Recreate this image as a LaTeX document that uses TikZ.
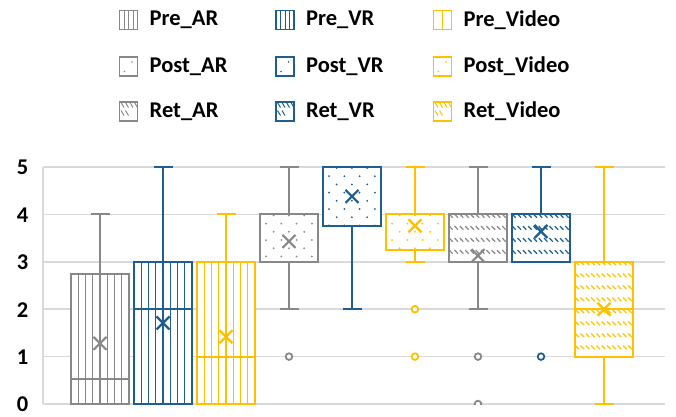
\documentclass[tikz,border=0pt]{standalone}
\usepackage{fontspec}
\setmainfont{Carlito}
\definecolor{cG}{HTML}{888888}
\definecolor{cB}{HTML}{1F5F8F}
\definecolor{cY}{HTML}{FFC000}
\definecolor{cGrid}{HTML}{D9D9D9}
\newcommand\vy[1]{404-47.4*(#1)}
% patterns use \xL \xR \yT \yB
\newcommand\patvert[1]{\pgfmathsetmacro\xW{(\xR-\xL)/8}\foreach \i in {1,...,7}{\draw[#1,line width=1.3pt] ({\xL+\i*\xW},\yT) -- ({\xL+\i*\xW},\yB);}}
\newcommand\patdots[1]{\foreach \r in {0,...,18}{\foreach \c in {0,...,4}{\fill[#1] ({\xL+6+mod(\r+1,2)*7.6+\c*15.3},{\yT+1+\r*8.2}) circle (1);}}}
\newcommand\patdiag[1]{\foreach \r in {0,...,10}{\foreach \c in {0,...,12}{\draw[#1,line width=1.2pt] ({\xL+2+\c*5.3-1.7},{\yT+1.5+\r*12-1.8}) -- ({\xL+2+\c*5.3+1.7},{\yT+1.5+\r*12+1.8});}}}
\newcommand\mybx[5]{%
  \pgfmathsetmacro\xL{#1-29}\pgfmathsetmacro\xR{#1+29}%
  \pgfmathsetmacro\yT{\vy{#3}}\pgfmathsetmacro\yB{\vy{#2}}%
  \fill[white] (\xL,\yT) rectangle (\xR,\yB);
  \begin{scope}
    \clip (\xL,\yT) rectangle (\xR,\yB);
    \csname pat#5\endcsname{#4}
  \end{scope}
  \draw[#4,line width=2pt] (\xL,\yT) rectangle (\xR,\yB);
}
\newcommand\mywk[4]{%
  \draw[#4,line width=2pt] (#1,{\vy{#2}}) -- (#1,{\vy{#3}});
  \draw[#4,line width=2pt] ({#1-9.5},{\vy{#3}}) -- ({#1+9.5},{\vy{#3}});
}
\newcommand\mymd[3]{\draw[#3,line width=2pt] ({#1-29},{\vy{#2}}) -- ({#1+29},{\vy{#2}});}
\newcommand\mymn[3]{\draw[#3,line width=2.2pt] ({#1-6.5},{\vy{#2}-6.5}) -- ({#1+6.5},{\vy{#2}+6.5}) ({#1-6.5},{\vy{#2}+6.5}) -- ({#1+6.5},{\vy{#2}-6.5});}
\newcommand\myol[3]{\draw[#3,line width=1.8pt,fill=white] (#1,{\vy{#2}}) circle (3.3);}
% legend icon
\newcommand\mylg[5]{% cx cy col pattern label
  \pgfmathsetmacro\xL{#1-9}\pgfmathsetmacro\xR{#1+9}%
  \pgfmathsetmacro\yT{#2-9.5}\pgfmathsetmacro\yB{#2+9.5}%
  \begin{scope}
    \clip (\xL,\yT) rectangle (\xR,\yB);
    \csname leg#4\endcsname{#3}
  \end{scope}
  \draw[#3,line width=1.5pt] (\xL,\yT) rectangle (\xR,\yB);
  \node[lgtext,anchor=west] at ({#1+21},#2) {#5};
}
\newcommand\legvert[1]{\foreach \i in {1,2,3}{\draw[#1,line width=1pt] ({\xL+\i*4.5},\yT) -- ({\xL+\i*4.5},\yB);}}
\newcommand\legvertb[1]{\draw[#1,line width=1pt] ({\xL+9},\yT) -- ({\xL+9},\yB);}
\newcommand\legdots[1]{\fill[#1] ({\xL+12.5},{\yT+5}) circle (0.9); \fill[#1] ({\xL+5},{\yT+14.5}) circle (0.9);}
\newcommand\legdiag[1]{\foreach \r/\c in {0/0,0/1,0/2,0/3,1/0,1/1}{\draw[#1,line width=1pt] ({\xL+3+\c*4.5-1.5},{\yT+3+\r*8-2.5}) -- ({\xL+3+\c*4.5+1.5},{\yT+3+\r*8+2.5});}}
\begin{document}
\begin{tikzpicture}[x=1pt,y=-1pt,
  lgtext/.style={font=\fontsize{22.5}{27}\selectfont\bfseries,inner sep=0pt},
  axlab/.style={font=\fontsize{22.5}{27}\selectfont\bfseries,inner sep=0pt,anchor=east}]
\useasboundingbox (0,0) rectangle (676,416);
% grid
\foreach \v in {0,...,5}{
  \draw[cGrid,line width=1.5pt] (43,{\vy{\v}}) -- (665,{\vy{\v}});
  \node[axlab] (y\v) at (28.5,{\vy{\v}+0.5}) {\v};
}
\draw[cGrid,line width=1.5pt] (43,{\vy{5}}) -- (43,{\vy{0}});
% legend
\mylg{128.5}{20}{cG}{vert}{Pre\_AR}
\mylg{285}{20}{cB}{vert}{Pre\_VR}
\mylg{442.5}{20}{cY}{vertb}{Pre\_Video}
\mylg{128.5}{66.5}{cG}{dots}{Post\_AR}
\mylg{285}{66.5}{cB}{dots}{Post\_VR}
\mylg{442.5}{66.5}{cY}{dots}{Post\_Video}
\mylg{128.5}{111.5}{cG}{diag}{Ret\_AR}
\mylg{285}{111.5}{cB}{diag}{Ret\_VR}
\mylg{442.5}{111.5}{cY}{diag}{Ret\_Video}
\begin{scope}
\clip (0,0) rectangle (676,404.6);
% whiskers
\mywk{100}{2.75}{4}{cG}
\mywk{163}{3}{5}{cB}
\mywk{226}{3}{4}{cY}
\mywk{289}{4}{5}{cG}\mywk{289}{3}{2}{cG}
\mywk{352}{3.75}{2}{cB}
\mywk{415}{4}{5}{cY}\mywk{415}{3.25}{3}{cY}
\mywk{478}{4}{5}{cG}\mywk{478}{3}{2}{cG}
\mywk{541}{4}{5}{cB}
\mywk{604}{3}{5}{cY}\mywk{604}{1}{0}{cY}
% boxes
\mybx{100}{0}{2.75}{cG}{vert}
\mybx{163}{0}{3}{cB}{vert}
\mybx{226}{0}{3}{cY}{vert}
\mybx{289}{3}{4}{cG}{dots}
\mybx{352}{3.75}{5}{cB}{dots}
\mybx{415}{3.25}{4}{cY}{dots}
\mybx{478}{3}{4}{cG}{diag}
\mybx{541}{3}{4}{cB}{diag}
\mybx{604}{1}{3}{cY}{diag}
% medians
\mymd{100}{0.52}{cG}
\mymd{163}{2}{cB}
\mymd{226}{1}{cY}
\mymd{604}{2}{cY}
% means
\mymn{100}{1.28}{cG}
\mymn{163}{1.71}{cB}
\mymn{226}{1.42}{cY}
\mymn{289}{3.43}{cG}
\mymn{352}{4.38}{cB}
\mymn{415}{3.76}{cY}
\mymn{478}{3.13}{cG}
\mymn{541}{3.64}{cB}
\mymn{604}{2}{cY}
% outliers
\myol{289}{1}{cG}
\myol{415}{2}{cY}\myol{415}{1}{cY}
\myol{478}{1}{cG}\myol{478}{0}{cG}
\myol{541}{1}{cB}
\end{scope}
\end{tikzpicture}
\end{document}
